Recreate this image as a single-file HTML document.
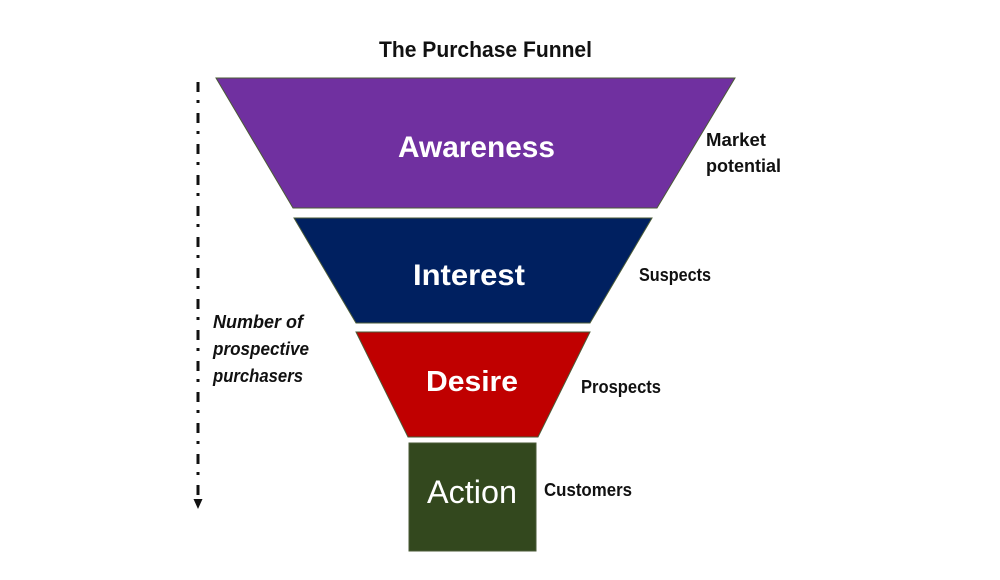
<!DOCTYPE html>
<html>
<head>
<meta charset="utf-8">
<style>
  html, body { margin: 0; padding: 0; background: #ffffff; }
  body { width: 1000px; height: 580px; overflow: hidden; }
  svg { display: block; }
  text { font-family: "Liberation Sans", Arial, sans-serif; }
</style>
</head>
<body>
<svg width="1000" height="580" viewBox="0 0 1000 580" xmlns="http://www.w3.org/2000/svg">
  <rect x="0" y="0" width="1000" height="580" fill="#ffffff"/>

  <!-- Title -->
  <text x="379" y="57" font-size="22" font-weight="bold" fill="#111111" textLength="213" lengthAdjust="spacingAndGlyphs">The Purchase Funnel</text>

  <!-- Awareness -->
  <polygon points="216,78 735,78 657,208 293,208" fill="#7030A0" stroke="#4a5a36" stroke-width="1"/>
  <text x="398" y="157" font-size="30" font-weight="bold" fill="#ffffff" textLength="157" lengthAdjust="spacingAndGlyphs">Awareness</text>

  <!-- Interest -->
  <polygon points="294,218 652,218 590,323 356,323" fill="#002060" stroke="#4a5a36" stroke-width="1"/>
  <text x="413" y="285" font-size="30" font-weight="bold" fill="#ffffff" textLength="112" lengthAdjust="spacingAndGlyphs">Interest</text>

  <!-- Desire -->
  <polygon points="356,332 590,332 538,437 408,437" fill="#C00000" stroke="#4a5a36" stroke-width="1"/>
  <text x="426" y="391" font-size="29" font-weight="bold" fill="#ffffff" textLength="92" lengthAdjust="spacingAndGlyphs">Desire</text>

  <!-- Action -->
  <rect x="409" y="443" width="127" height="108" fill="#33481E" stroke="#4a5a36" stroke-width="1"/>
  <text x="427" y="503" font-size="32" fill="#ffffff" textLength="90" lengthAdjust="spacingAndGlyphs">Action</text>

  <!-- Right labels -->
  <text x="706" y="146" font-size="18" font-weight="bold" fill="#111111" textLength="60" lengthAdjust="spacingAndGlyphs">Market</text>
  <text x="706" y="172" font-size="18" font-weight="bold" fill="#111111" textLength="75" lengthAdjust="spacingAndGlyphs">potential</text>
  <text x="639" y="281" font-size="18" font-weight="bold" fill="#111111" textLength="72" lengthAdjust="spacingAndGlyphs">Suspects</text>
  <text x="581" y="393" font-size="18" font-weight="bold" fill="#111111" textLength="80" lengthAdjust="spacingAndGlyphs">Prospects</text>
  <text x="544" y="496" font-size="18" font-weight="bold" fill="#111111" textLength="88" lengthAdjust="spacingAndGlyphs">Customers</text>

  <!-- Left labels -->
  <text x="213" y="328" font-size="18" font-weight="bold" font-style="italic" fill="#111111" textLength="90" lengthAdjust="spacingAndGlyphs">Number of</text>
  <text x="213" y="355" font-size="18" font-weight="bold" font-style="italic" fill="#111111" textLength="96" lengthAdjust="spacingAndGlyphs">prospective</text>
  <text x="213" y="382" font-size="18" font-weight="bold" font-style="italic" fill="#111111" textLength="90" lengthAdjust="spacingAndGlyphs">purchasers</text>

  <!-- Dash-dot line with arrow -->
  <line x1="198" y1="82" x2="198" y2="500" stroke="#111111" stroke-width="3" stroke-dasharray="10 8 3 10"/>
  <polygon points="193.5,499 202.5,499 198,509" fill="#111111"/>
</svg>
</body>
</html>
